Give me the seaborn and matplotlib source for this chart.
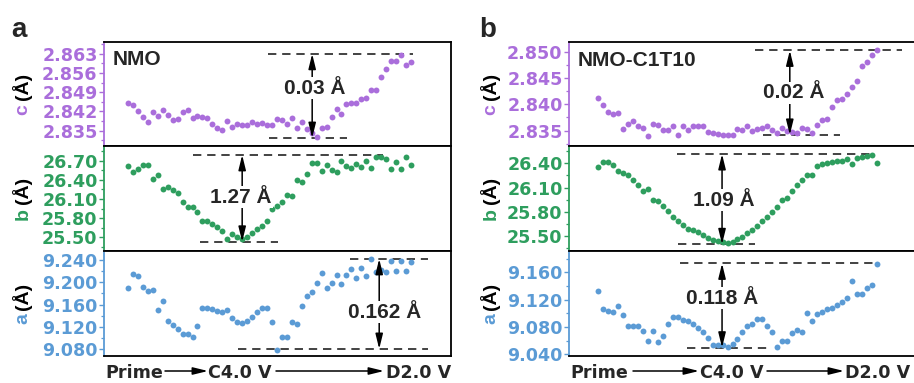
import numpy as np
import pandas as pd
import matplotlib
matplotlib.use("Agg")
import matplotlib.pyplot as plt
import seaborn as sns
from matplotlib.ticker import MultipleLocator, FixedLocator, FormatStrFormatter
from matplotlib.transforms import IdentityTransform
from matplotlib.patches import FancyArrowPatch

# ---------------- data ----------------
c_nmo = [2.8449, 2.8443, 2.8423, 2.8401, 2.8383, 2.8419, 2.8405, 2.8425, 2.8407, 2.8389,
         2.8392, 2.8417, 2.8425, 2.8397, 2.8403, 2.8401, 2.8396, 2.8373, 2.8359, 2.8352,
         2.8386, 2.8365, 2.8374, 2.8372, 2.8371, 2.8383, 2.8374, 2.8377, 2.8372, 2.8369,
         2.8392, 2.8389, 2.8373, 2.8395, 2.8359, 2.8382, 2.8355, 2.8340, 2.8328, 2.8359,
         2.8365, 2.8401, 2.8428, 2.8411, 2.8446, 2.8449, 2.8452, 2.8465, 2.8469, 2.8498,
         2.8498, 2.8546, 2.8573, 2.8605, 2.8605, 2.8626, 2.8591, 2.8601]
b_nmo = [26.62, 26.53, 26.57, 26.64, 26.64, 26.41, 26.47, 26.25, 26.29, 26.24,
         26.20, 26.06, 25.98, 25.97, 25.89, 25.76, 25.75, 25.71, 25.66, 25.60,
         25.47, 25.55, 25.50, 25.47, 25.51, 25.57, 25.63, 25.68, 25.76, 25.95,
         25.99, 26.06, 26.16, 26.15, 26.39, 26.36, 26.49, 26.67, 26.67, 26.54,
         26.63, 26.56, 26.53, 26.69, 26.62, 26.59, 26.65, 26.60, 26.70, 26.58,
         26.75, 26.75, 26.72, 26.57, 26.68, 26.57, 26.75, 26.63]
a_nmo = [9.189, 9.215, 9.211, 9.192, 9.185, 9.186, 9.151, 9.166, 9.130, 9.123,
         9.116, 9.107, 9.107, 9.101, 9.121, 9.153, 9.154, 9.152, 9.149, 9.147,
         9.151, 9.135, 9.129, 9.126, 9.130, 9.137, 9.147, 9.154, 9.153, 9.129,
         9.079, 9.101, 9.102, 9.129, 9.125, 9.157, 9.176, 9.183, 9.199, 9.216,
         9.190, 9.199, 9.213, 9.196, 9.213, 9.224, 9.207, 9.225, 9.211, 9.242,
         9.218, 9.222, 9.218, 9.238, 9.221, 9.238, 9.221, 9.237]

c_c1t10 = [2.8411, 2.8399, 2.8386, 2.8382, 2.8383, 2.8353, 2.8363, 2.8369, 2.8358, 2.8356,
           2.8340, 2.8363, 2.8361, 2.8351, 2.8351, 2.8359, 2.8342, 2.8359, 2.8351, 2.8358,
           2.8359, 2.8358, 2.8348, 2.8345, 2.8343, 2.8342, 2.8342, 2.8341, 2.8354, 2.8351,
           2.8359, 2.8349, 2.8353, 2.8356, 2.8358, 2.8351, 2.8346, 2.8356, 2.8349, 2.8348,
           2.8345, 2.8356, 2.8354, 2.8346, 2.8361, 2.8370, 2.8372, 2.8394, 2.8408, 2.8410,
           2.8419, 2.8432, 2.8445, 2.8473, 2.8481, 2.8494, 2.8502]
b_c1t10 = [26.36, 26.42, 26.42, 26.38, 26.31, 26.28, 26.26, 26.19, 26.13, 26.06,
           26.08, 25.94, 25.93, 25.87, 25.81, 25.74, 25.69, 25.64, 25.59, 25.57,
           25.55, 25.51, 25.48, 25.45, 25.44, 25.42, 25.41, 25.43, 25.46, 25.49,
           25.53, 25.57, 25.62, 25.68, 25.74, 25.80, 25.86, 25.95, 25.97, 26.06,
           26.13, 26.19, 26.26, 26.26, 26.37, 26.39, 26.40, 26.42, 26.43, 26.43,
           26.45, 26.39, 26.47, 26.48, 26.49, 26.50, 26.41]
a_c1t10 = [9.133, 9.107, 9.104, 9.102, 9.110, 9.098, 9.082, 9.082, 9.082, 9.074,
           9.060, 9.074, 9.058, 9.067, 9.085, 9.094, 9.095, 9.090, 9.089, 9.084,
           9.078, 9.072, 9.064, 9.054, 9.053, 9.053, 9.051, 9.055, 9.063, 9.072,
           9.081, 9.085, 9.092, 9.092, 9.082, 9.073, 9.051, 9.059, 9.060, 9.071,
           9.076, 9.072, 9.100, 9.089, 9.099, 9.102, 9.107, 9.108, 9.112, 9.116,
           9.122, 9.147, 9.128, 9.128, 9.137, 9.141, 9.172]

samples = ["NMO", "NMO-C1T10"]
panel_letters = ["a", "b"]
param_names = ["c", "b", "a"]
ticks_c_nmo = [2.835, 2.842, 2.849, 2.856, 2.863]
ticks_b_nmo = [25.50, 25.80, 26.10, 26.40, 26.70]
ticks_a_nmo = [9.080, 9.120, 9.160, 9.200, 9.240]
ticks_c_c1t10 = [2.835, 2.840, 2.845, 2.850]
ticks_b_c1t10 = [25.50, 25.80, 26.10, 26.40]
ticks_a_c1t10 = [9.040, 9.080, 9.120, 9.160]
delta_labels_nmo = ["0.03 Å", "1.27 Å", "0.162 Å"]
delta_labels_c1t10 = ["0.02 Å", "1.09 Å", "0.118 Å"]
stage_labels = ["Prime", "C4.0 V", "D2.0 V"]

# ---------------- style ----------------
sns.set_style("white")
plt.rcParams["font.family"] = ["Liberation Sans", "DejaVu Sans"]

W, H = 914, 383
fig = plt.figure(figsize=(W / 100, H / 100), dpi=100)
ID = IdentityTransform()

PURPLE = "#AA6EDB"
GREEN = "#2E9E5E"
BLUE = "#5B9BD5"
colors = [PURPLE, GREEN, BLUE]
TICKFONT = dict(family="DejaVu Sans", weight="bold", size=12.6)
LBLFONT = dict(family="Liberation Sans", weight="bold", size=15)

rows = [(42, 146), (146, 251), (251, 356)]   # pixel top/bottom
cols = [(104, 451), (569, 916)]

def make_ax(c, r):
    x0, x1 = cols[c]
    y0, y1 = rows[r]
    return fig.add_axes([x0 / W, 1 - y1 / H, (x1 - x0) / W, (y1 - y0) / H])

panels = {
    (0, 0): dict(data=c_nmo, ylim=(2.8294, 2.8673), ticks=ticks_c_nmo, minor=0.0035, fmt="%.3f",
                 ann=(2.863, 28.2, 57.4, 2.8323, 28.4, 44.1, 37.1, 37.6, 2.8505)),
    (0, 1): dict(data=b_nmo, ylim=(25.286, 26.93), ticks=ticks_b_nmo, minor=0.15, fmt="%.2f",
                 ann=(26.79, 13.1, 51.4, 25.43, 14.5, 30.2, 23.0, 22.8, 26.13)),
    (0, 2): dict(data=a_nmo, ylim=(9.0674, 9.2562), ticks=ticks_a_nmo, minor=0.02, fmt="%.3f",
                 ann=(9.242, 44.7, 60.4, 9.080, 22.2, 60.4, 50.6, 51.6, 9.146)),
    (1, 0): dict(data=c_c1t10, ylim=(2.8321, 2.8518), ticks=ticks_c_c1t10, minor=0.0025, fmt="%.3f",
                 ann=(2.8502, 31.5, 61.0, 2.8342, 33.1, 48.6, 38.5, 39.2, 2.8422)),
    (1, 1): dict(data=b_c1t10, ylim=(25.3125, 26.616), ticks=ticks_b_c1t10, minor=0.15, fmt="%.2f",
                 ann=(26.516, 15.9, 55.2, 25.396, 16.1, 31.5, 24.9, 25.3, 25.94)),
    (1, 2): dict(data=a_c1t10, ylim=(9.0375, 9.1912), ticks=ticks_a_c1t10, minor=0.02, fmt="%.3f",
                 ann=(9.173, 16.5, 56.0, 9.0497, 17.9, 33.9, 24.9, 24.9, 9.1224)),
}
xlims = [(-4.83, 65.06), (-5.82, 63.83)]
deltas = [delta_labels_nmo, delta_labels_c1t10]

renderer = fig.canvas.get_renderer()

for c in range(2):
    for r in range(3):
        p = panels[(c, r)]
        col = colors[r]
        ax = make_ax(c, r)
        vals = p["data"]
        df = pd.DataFrame({"idx": np.arange(len(vals)), "val": vals})
        sns.scatterplot(data=df, x="idx", y="val", ax=ax, color=col, s=18,
                        linewidth=0, legend=False, zorder=3)
        ax.set_xlim(*xlims[c])
        ax.set_ylim(*p["ylim"])
        ax.set_xlabel("")
        ax.set_ylabel("")
        ax.set_xticks([])
        ax.yaxis.set_major_locator(FixedLocator(p["ticks"]))
        ax.yaxis.set_minor_locator(MultipleLocator(p["minor"]))
        ax.yaxis.set_major_formatter(FormatStrFormatter(p["fmt"]))
        ax.tick_params(axis="y", which="major", direction="out", length=3.8, width=1,
                       color=col, pad=0.8, left=True)
        ax.tick_params(axis="y", which="minor", direction="out", length=2.0, width=0.9,
                       color=col, left=True)
        for lab in ax.get_yticklabels():
            lab.set_fontfamily(TICKFONT["family"])
            lab.set_fontweight(TICKFONT["weight"])
            lab.set_fontsize(TICKFONT["size"])
            lab.set_color(col)
        for side in ["top", "right", "bottom"]:
            ax.spines[side].set_color("black")
            ax.spines[side].set_linewidth(1.3)
        ax.spines["left"].set_color(col)
        ax.spines["left"].set_linewidth(1.3)

        # annotation: dashed guides, double arrow, delta label
        ty, tx0, tx1, by, bx0, bx1, axx, lx, ly = p["ann"]
        ax.plot([tx0, tx1], [ty, ty], ls=(0, (5, 3.5)), color="#222222", lw=1.2, zorder=2)
        ax.plot([bx0, bx1], [by, by], ls=(0, (5, 3.5)), color="#222222", lw=1.2, zorder=2)
        ax.annotate("", xy=(axx, ty), xytext=(axx, by),
                    arrowprops=dict(arrowstyle="<|-|>,head_length=0.9,head_width=0.22",
                                    mutation_scale=10, lw=1.1, color="black",
                                    shrinkA=0, shrinkB=0), zorder=4)
        ax.text(lx, ly, deltas[c][r], ha="center", va="center", zorder=5,
                bbox=dict(fc="white", ec="none", pad=1.0), **LBLFONT)

        # two-colour y label
        xc = 22 if c == 0 else 490
        yc = H - (rows[r][0] + rows[r][1]) / 2
        t1 = fig.text(0, 0, param_names[r], rotation=90, color=col, ha="center", va="bottom",
                      transform=ID, family="Liberation Sans", weight="bold", size=14)
        t2 = fig.text(0, 0, "(Å)", rotation=90, color="black", ha="center", va="bottom",
                      transform=ID, family="Liberation Sans", weight="bold", size=14)
        h1 = t1.get_window_extent(renderer).height
        h2 = t2.get_window_extent(renderer).height
        gap = 4
        y0 = yc - (h1 + gap + h2) / 2
        t1.set_position((xc + 1, y0))
        t2.set_position((xc, y0 + h1 + gap))

# sample names and panel letters
fig.text(113, H - 65, samples[0], transform=ID, ha="left", va="baseline",
         family="Liberation Sans", weight="bold", size=15)
fig.text(578, H - 66, samples[1], transform=ID, ha="left", va="baseline",
         family="Liberation Sans", weight="bold", size=15)
fig.text(11, H - 37, panel_letters[0], transform=ID, ha="left", va="baseline",
         family="Liberation Sans", weight="bold", size=20)
fig.text(479, H - 37, panel_letters[1], transform=ID, ha="left", va="baseline",
         family="Liberation Sans", weight="bold", size=20)

# bottom stage rows
XF = dict(family="DejaVu Sans", weight="bold", size=12.6, transform=ID, va="baseline")
base = H - 378
arr_y = H - 371

def stage_arrow(xa, xb):
    fig.add_artist(FancyArrowPatch((xa, arr_y), (xb, arr_y), transform=ID,
                                   arrowstyle="-|>,head_length=0.9,head_width=0.22",
                                   mutation_scale=10, lw=1.1, color="black",
                                   shrinkA=0, shrinkB=0))

fig.text(105, base, stage_labels[0], ha="left", **XF)
fig.text(208, base, stage_labels[1], ha="left", **XF)
fig.text(451, base, stage_labels[2], ha="right", **XF)
stage_arrow(165, 208)
stage_arrow(276, 384)

fig.text(570, base, stage_labels[0], ha="left", **XF)
fig.text(732, base, stage_labels[1], ha="center", **XF)
fig.text(910, base, stage_labels[2], ha="right", **XF)
stage_arrow(633, 699)
stage_arrow(767, 844)

fig.savefig("out.png", dpi=100)
